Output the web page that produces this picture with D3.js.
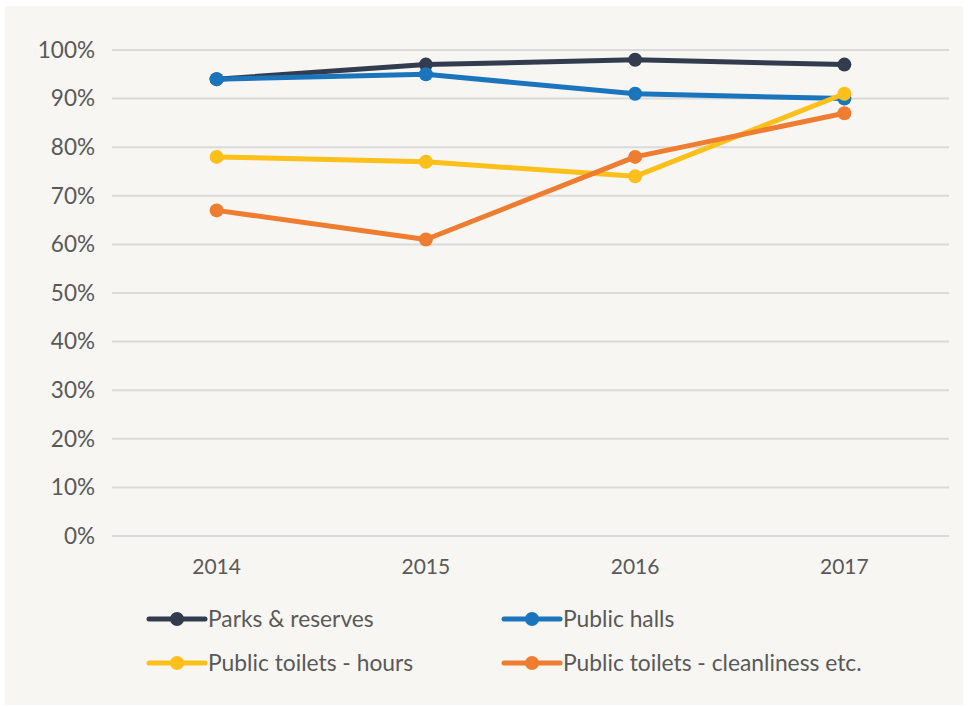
<!DOCTYPE html>
<html>
<head>
<meta charset="utf-8">
<script src="https://cdn.jsdelivr.net/npm/d3@7"></script>
<style>
  html, body { margin: 0; padding: 0; background: #ffffff; }
  svg { display: block; }
  text { font-family: "Lato", "Open Sans", sans-serif; fill: #595959; }
</style>
</head>
<body>
<script>
// Satisfaction with community facilities, 2014–2017
const years = ["2014", "2015", "2016", "2017"];
const seriesNames = ["Parks & reserves", "Public halls", "Public toilets - hours", "Public toilets - cleanliness etc."];
const parks = [94, 97, 98, 97];
const halls = [94, 95, 91, 90];
const toiletHours = [78, 77, 74, 91];
const toiletClean = [67, 61, 78, 87];
const yTicks = [0, 10, 20, 30, 40, 50, 60, 70, 80, 90, 100];
const colors = ["#333c4f", "#1a75bc", "#fdbf19", "#ee7d31"];

const series = [parks, halls, toiletHours, toiletClean].map((v, i) => ({
  name: seriesNames[i], values: v, color: colors[i]
}));

const W = 968, H = 707;
const svg = d3.select("body").append("svg").attr("width", W).attr("height", H);

svg.append("rect").attr("x", 5).attr("y", 6).attr("width", 958).attr("height", 699)
  .attr("fill", "#f7f6f2");

const plotL = 112, plotR = 949, plotT = 50, plotB = 536;

const x = d3.scalePoint().domain(years).range([plotL, plotR]).padding(0.5);
const y = d3.scaleLinear().domain([0, 100]).range([plotB, plotT]);

// horizontal gridlines
svg.append("g").selectAll("line").data(yTicks).join("line")
  .attr("x1", plotL).attr("x2", plotR)
  .attr("y1", d => y(d)).attr("y2", d => y(d))
  .attr("stroke", "#dadada").attr("stroke-width", 2);

// y-axis labels
svg.append("g").selectAll("text").data(yTicks).join("text")
  .attr("x", 95).attr("y", d => y(d)).attr("dy", "0.35em")
  .attr("text-anchor", "end").attr("font-size", 22.5)
  .text(d => d + "%");

// x-axis labels
svg.append("g").selectAll("text").data(years).join("text")
  .attr("x", d => x(d)).attr("y", 567).attr("dy", "0.35em")
  .attr("text-anchor", "middle").attr("font-size", 21)
  .text(d => d);

const line = d3.line().x((d, i) => x(years[i])).y(d => y(d));

const g = svg.append("g").selectAll("g").data(series).join("g");
g.append("path")
  .attr("d", d => line(d.values))
  .attr("fill", "none").attr("stroke", d => d.color)
  .attr("stroke-width", 5).attr("stroke-linejoin", "round").attr("stroke-linecap", "round");
g.selectAll("circle").data(d => d.values.map(v => ({ v, c: d.color }))).join("circle")
  .attr("cx", (d, i) => x(years[i])).attr("cy", d => y(d.v))
  .attr("r", 7).attr("fill", d => d.c);

// legend
const legendPos = [[149, 619], [504, 619], [149, 663], [504, 663]];
const lg = svg.append("g").selectAll("g").data(series).join("g")
  .attr("transform", (d, i) => `translate(${legendPos[i][0]},${legendPos[i][1]})`);
lg.append("line").attr("x1", 0).attr("x2", 56).attr("y1", 0).attr("y2", 0)
  .attr("stroke", d => d.color).attr("stroke-width", 5).attr("stroke-linecap", "round");
lg.append("circle").attr("cx", 28).attr("cy", 0).attr("r", 7).attr("fill", d => d.color);
lg.append("text").attr("x", 59).attr("y", 0).attr("dy", "0.35em")
  .attr("font-size", 22.8).text(d => d.name);
</script>
</body>
</html>
